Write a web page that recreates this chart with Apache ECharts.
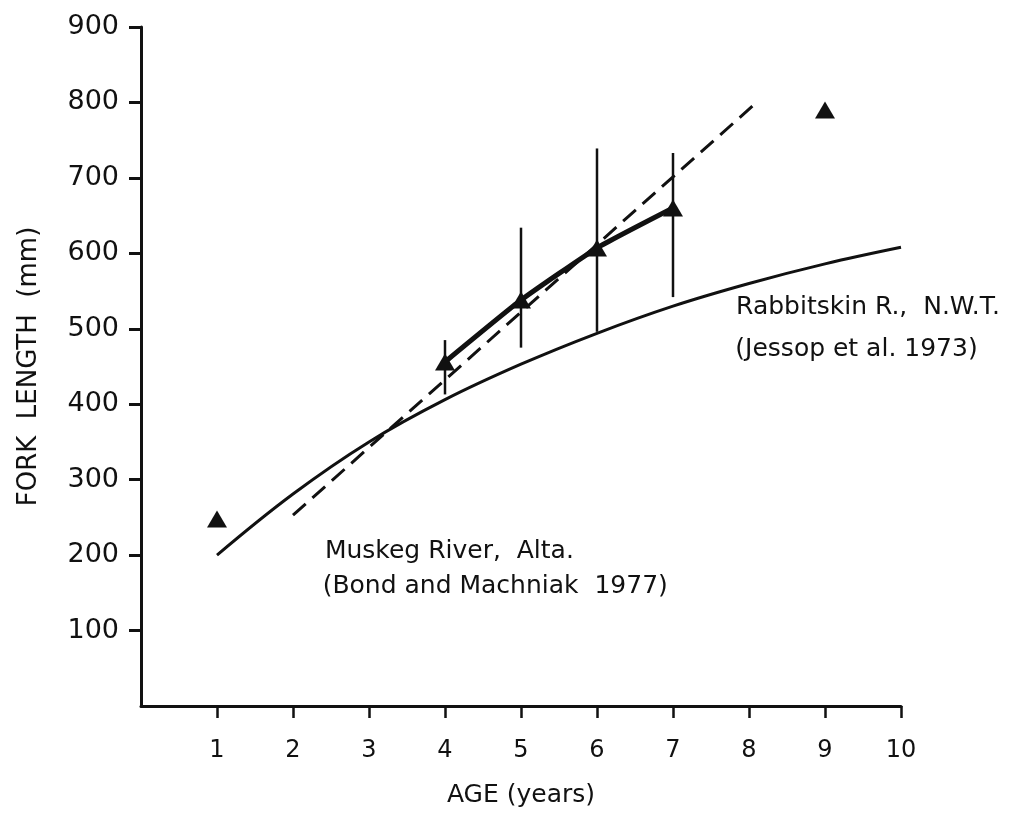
<!DOCTYPE html>
<html>
<head>
<meta charset="utf-8">
<style>
  html, body { margin: 0; padding: 0; background: #fff; }
  #chart { width: 1028px; height: 813px; }
</style>
<script src="https://cdn.jsdelivr.net/npm/echarts@6/dist/echarts.min.js"></script>
</head>
<body>
<div id="chart"></div>
<script>
// Age (years) tick values and fork length (mm) tick values
const xTicks = [1, 2, 3, 4, 5, 6, 7, 8, 9, 10];
const yTicks = [100, 200, 300, 400, 500, 600, 700, 800, 900];

// Rabbitskin R., N.W.T. growth curve (Jessop et al. 1973)
const rabbitAge = [1, 2, 3, 4, 5, 6, 7, 8, 9, 10];
const rabbitLen = [200, 281, 350, 406, 453, 494, 530, 560, 586, 608];

// Muskeg River, Alta. regression line (Bond and Machniak 1977)
const muskegAge = [2.0, 8.1];
const muskegLen = [253, 800];

// Observed mean fork length by age
const obsAge = [1, 4, 5, 6, 7, 9];
const obsLen = [248, 456, 538, 607, 660, 790];

// Observed ranges
const rangeAge = [4, 5, 6, 7];
const rangeLow = [413, 475, 496, 542];
const rangeHigh = [485, 634, 739, 733];

// Curve labels: [age, length, text]
const notes = [
  [7.83, 528, 'Rabbitskin R.,  N.W.T.'],
  [7.82, 472, '(Jessop et al. 1973)'],
  [2.42, 205, 'Muskeg River,  Alta.'],
  [2.39, 159, '(Bond and Machniak  1977)']
];

const FONT = 'DejaVu Sans';
const INK = '#111';

const zip = (a, b) => a.map((v, i) => [v, b[i]]);
const meanLine = obsAge.map((a, i) => [a, obsLen[i]]).filter(p => p[0] >= 4 && p[0] <= 7);

const chart = echarts.init(document.getElementById('chart'), null, { renderer: 'canvas' });

chart.setOption({
  backgroundColor: '#fff',
  animation: false,
  grid: { left: 141, right: 127, top: 27, bottom: 106 },
  xAxis: {
    type: 'value', min: 0, max: 10, interval: 1,
    name: 'AGE (years)', nameLocation: 'middle', nameGap: 77,
    nameTextStyle: { fontFamily: FONT, fontSize: 25, color: INK },
    axisLine: { lineStyle: { color: INK, width: 3 } },
    axisTick: { show: true, inside: false, length: 12, lineStyle: { color: INK, width: 2.5 }, customValues: xTicks },
    axisLabel: { customValues: xTicks, margin: 33, fontFamily: FONT, fontSize: 24, color: INK },
    splitLine: { show: false }
  },
  yAxis: {
    type: 'value', min: 0, max: 900, interval: 100,
    name: 'FORK  LENGTH  (mm)', nameLocation: 'middle', nameGap: 99, nameRotate: 90,
    nameTextStyle: { fontFamily: FONT, fontSize: 26, color: INK },
    axisLine: { lineStyle: { color: INK, width: 3 } },
    axisTick: { show: true, inside: false, length: 12, lineStyle: { color: INK, width: 3 }, customValues: yTicks },
    axisLabel: { customValues: yTicks, margin: 22, fontFamily: FONT, fontSize: 27, color: INK },
    splitLine: { show: false }
  },
  series: [
    {
      name: 'Rabbitskin', type: 'line', smooth: 0.4, symbol: 'none',
      data: zip(rabbitAge, rabbitLen),
      lineStyle: { color: INK, width: 3 }, z: 3
    },
    {
      name: 'Muskeg', type: 'line', symbol: 'none',
      data: zip(muskegAge, muskegLen),
      lineStyle: { color: INK, width: 3, type: [17, 9] }, z: 3
    },
    {
      name: 'Range', type: 'custom',
      data: rangeAge.map((a, i) => [a, rangeLow[i], rangeHigh[i]]),
      renderItem: (params, api) => {
        const lo = api.coord([api.value(0), api.value(1)]);
        const hi = api.coord([api.value(0), api.value(2)]);
        return {
          type: 'line',
          shape: { x1: lo[0], y1: lo[1], x2: hi[0], y2: hi[1] },
          style: { stroke: INK, lineWidth: 2.5 }
        };
      },
      z: 4
    },
    {
      name: 'Mean trend', type: 'line', symbol: 'none', smooth: 0.15,
      data: meanLine,
      lineStyle: { color: INK, width: 5 }, z: 5
    },
    {
      name: 'Observed', type: 'scatter', symbol: 'triangle', symbolSize: [20, 17],
      data: zip(obsAge, obsLen),
      itemStyle: { color: INK, opacity: 1 }, z: 6
    },
    {
      name: 'Notes', type: 'scatter', symbolSize: 0, silent: true,
      data: notes.map(n => ({ value: [n[0], n[1]], name: n[2] })),
      itemStyle: { opacity: 1 },
      label: {
        show: true, position: 'inside', align: 'left', verticalAlign: 'middle',
        formatter: p => p.name, fontFamily: FONT, fontSize: 25, color: INK, opacity: 1
      },
      z: 7
    }
  ]
});
</script>
</body>
</html>
